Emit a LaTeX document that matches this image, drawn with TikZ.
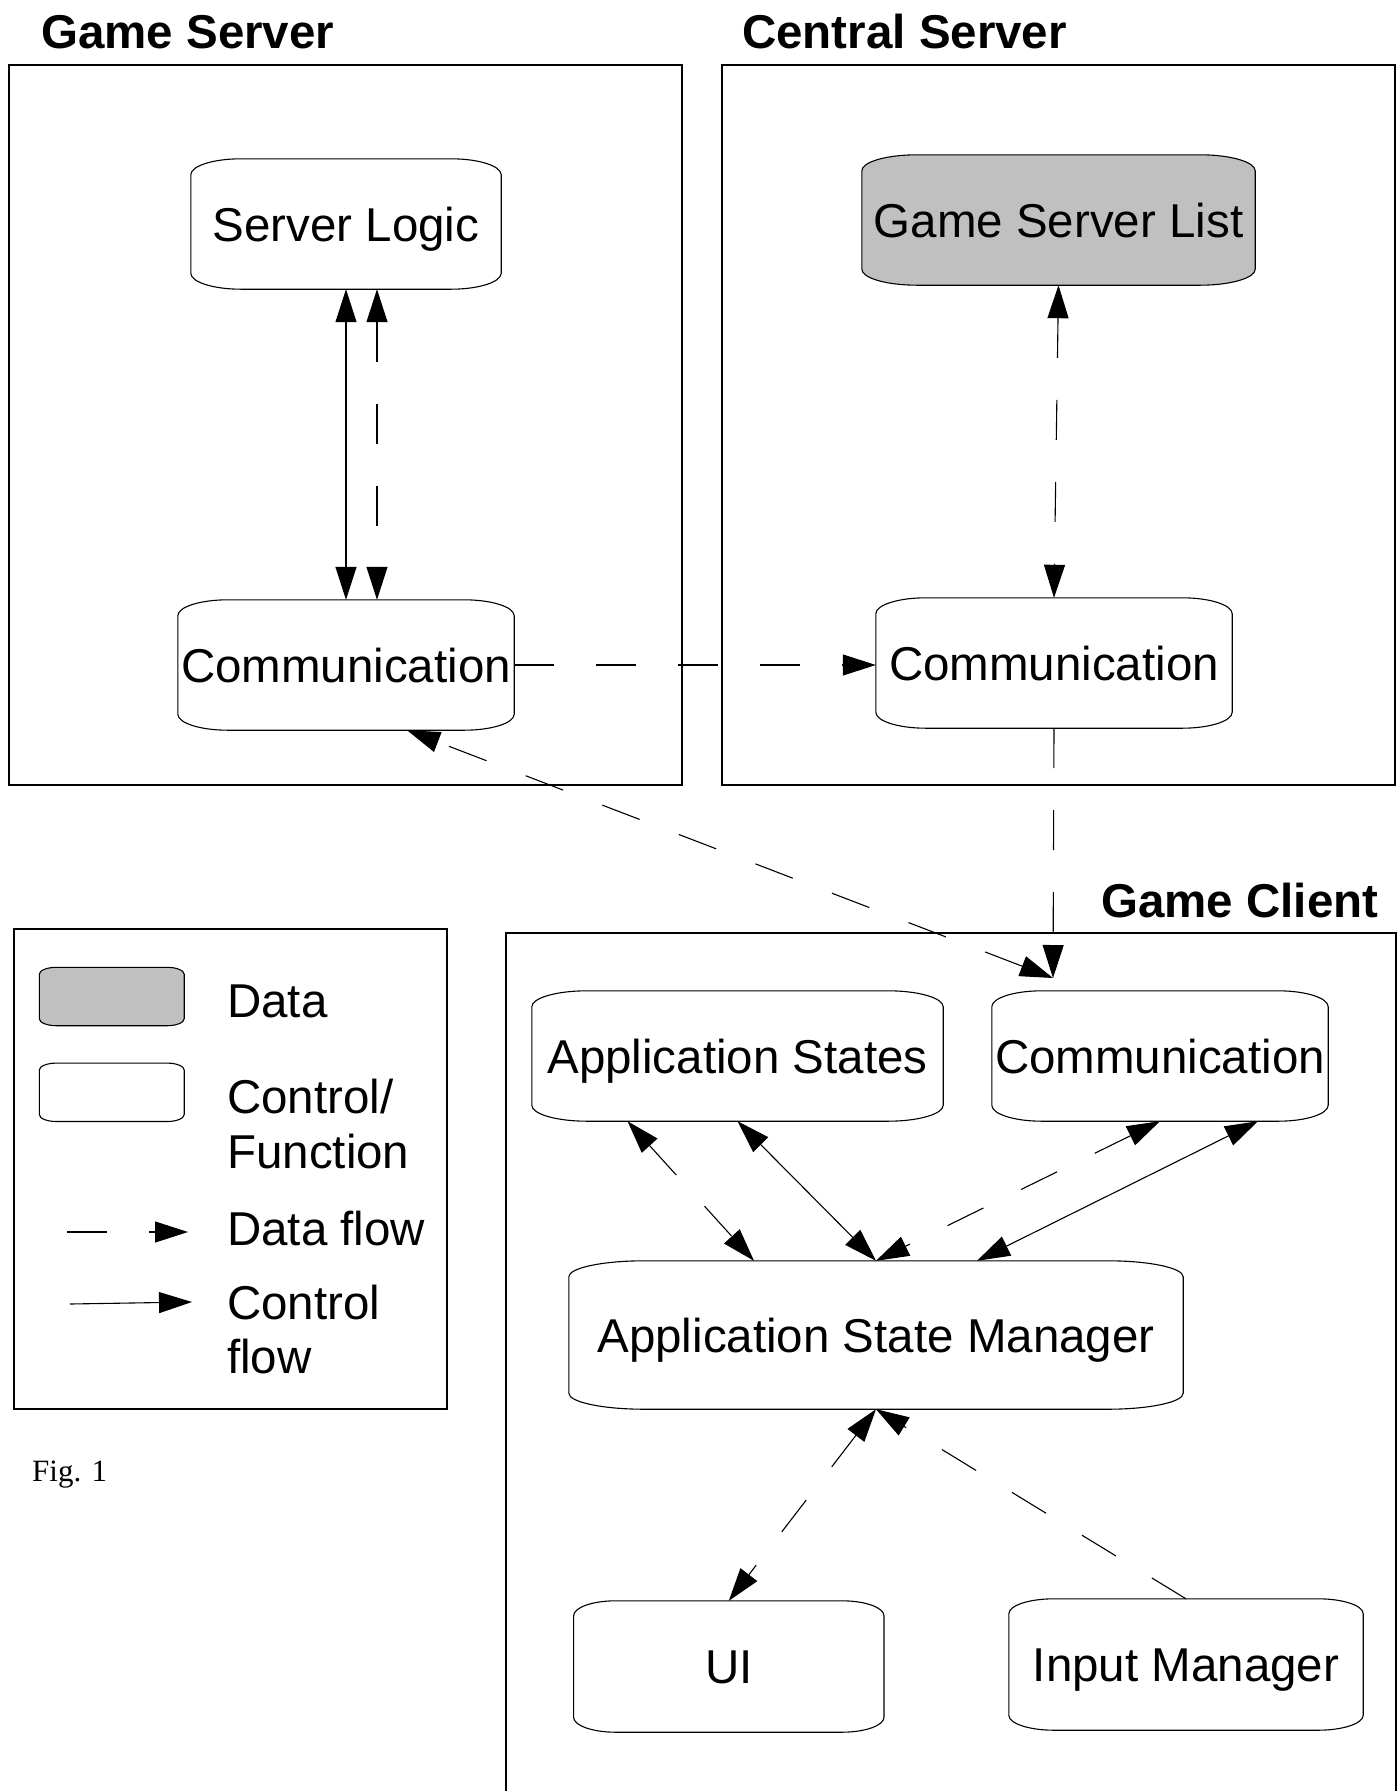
\documentclass[tikz,border=0pt]{standalone}
\usepackage{fontspec}
\setmainfont{Liberation Sans}
\newfontfamily\figfont{Liberation Serif}
\usetikzlibrary{arrows.meta,calc,backgrounds}
\definecolor{datagray}{RGB}{192,192,192}
\tikzset{
  boxtext/.style={inner sep=0pt, text height=34pt, text depth=0pt, font=\fontsize{47.5}{57}\selectfont},
  frame/.style={draw, line width=1.3pt},
  outline/.style={draw, line width=1.1pt},
  ctrl/.style={line width=1.1pt},
  data/.style={line width=1.1pt, dash pattern=on 40pt off 42pt},
  >={Triangle[length=33pt,width=21pt]},
  title/.style={inner sep=0pt, anchor=base west, font=\bfseries\fontsize{47.5}{57}\selectfont},
  legtext/.style={inner sep=0pt, anchor=base west, font=\fontsize{47.5}{57}\selectfont},
}
\newcommand\shapebox[4][]{%
  \path[outline,#1] let \p1=(#2.north west), \p2=(#2.south east) in
   (\x1,\y1-#4) .. controls (\x1,\y1-0.448*#4) and (\x1+0.448*#3,\y1) .. (\x1+#3,\y1)
   -- (\x2-#3,\y1) .. controls (\x2-0.448*#3,\y1) and (\x2,\y1-0.448*#4) .. (\x2,\y1-#4)
   -- (\x2,\y2+#4) .. controls (\x2,\y2+0.448*#4) and (\x2-0.448*#3,\y2) .. (\x2-#3,\y2)
   -- (\x1+#3,\y2) .. controls (\x1+0.448*#3,\y2) and (\x1,\y2+0.448*#4) .. (\x1,\y2+#4) -- cycle;}
\begin{document}
\begin{tikzpicture}[x=1pt,y=-1pt]
\useasboundingbox (0,0) rectangle (1399,1791);
\begin{scope}[on background layer]
  \fill[white] (0,0) rectangle (1399,1791);
\end{scope}

% frames
\draw[frame] (9,65) rectangle (682,785);
\draw[frame] (722,65) rectangle (1395,785);
\draw[frame] (506,1795) -- (506,933) -- (1396,933) -- (1396,1795);
\draw[frame] (14,929) rectangle (447,1409);

% titles
\node[title] (tgs) at (41,48) {Game Server};
\node[title] (tcs) at (742,48) {Central Server};
\node[title] (tgc) at (1101,917) {Game Client};

% nodes
\node[boxtext, minimum width=310pt, minimum height=130pt] (sl)  at (346,224)    {Server Logic};
\node[boxtext, minimum width=336pt, minimum height=130pt] (gsc) at (346,665)    {Communication};
\node[boxtext, minimum width=393pt, minimum height=130pt] (gsl) at (1058.5,220) {Game Server List};
\node[boxtext, minimum width=356pt, minimum height=130pt] (csc) at (1054,663)   {Communication};
\node[boxtext, minimum width=411pt, minimum height=130pt] (aps) at (737.5,1056) {Application States};
\node[boxtext, minimum width=336pt, minimum height=130pt] (gcc) at (1160,1056)  {Communication};
\node[boxtext, minimum width=614pt, minimum height=148pt] (asm) at (876,1335)   {Application State Manager};
\node[boxtext, minimum width=310pt, minimum height=131pt] (ui)  at (728.8,1666.5) {UI};
\node[boxtext, minimum width=354pt, minimum height=131pt] (im)  at (1186,1664.5) {Input Manager};

% legend
\node[inner sep=0pt, minimum width=144.5pt, minimum height=58pt] (legdata) at (111.75,996.5) {};
\node[inner sep=0pt, minimum width=144.5pt, minimum height=58pt] (legctrl) at (111.75,1092.3) {};
\node[legtext] (l1)  at (227,1017) {Data};
\node[legtext] (l2a) at (227,1113) {Control/};
\node[legtext] (l2b) at (227,1168) {Function};
\node[legtext] (l3)  at (227,1245) {Data flow};
\node[legtext] (l4a) at (227,1319) {Control};
\node[legtext] (l4b) at (227,1373) {flow};
\coordinate (ld1) at (67,1232);
\coordinate (ld2) at (188,1232);
\coordinate (lc1) at (70,1304);
\coordinate (lc2) at (192,1302);
\draw[data,->] (ld1) -- (ld2);
\draw[ctrl,->] (lc1) -- (lc2);

\node[inner sep=0pt, anchor=base west, font=\figfont\fontsize{31}{37}\selectfont] (fig) at (32,1481) {Fig. 1};

% shapes
\begin{scope}[on background layer]
  \shapebox{sl}{50pt}{16pt}
  \shapebox{gsc}{50pt}{16pt}
  \shapebox[fill=datagray]{gsl}{55pt}{16pt}
  \shapebox{csc}{50pt}{16pt}
  \shapebox{aps}{55pt}{16pt}
  \shapebox{gcc}{50pt}{16pt}
  \shapebox{asm}{75pt}{16pt}
  \shapebox{ui}{42pt}{15pt}
  \shapebox{im}{45pt}{15pt}
  \shapebox[fill=datagray]{legdata}{17pt}{7pt}
  \shapebox{legctrl}{17pt}{7pt}
\end{scope}

% connectors
\coordinate (gcin) at (1053,978);
\draw[ctrl,<->] (sl.south) -- (gsc.north);
\draw[data,<->] ([xshift=31pt]sl.south) -- ([xshift=31pt]gsc.north);
\draw[data,->] (gsc.east) -- (gsc.east -| csc.west);
\draw[data,<->] (gsl.south) -- (csc.north);
\draw[data,->] (csc.south) -- (gcin);
\draw[data,<->] (gcin) -- ([xshift=61pt]gsc.south);
\draw[data,<->] ([xshift=-110pt]aps.south) -- ([xshift=-122pt]asm.north);
\draw[ctrl,<->] (aps.south) -- (asm.north);
\draw[data,<->] (gcc.south) -- (asm.north);
\draw[ctrl,<->] ([xshift=98pt]gcc.south) -- ([xshift=101pt]asm.north);
\draw[data,<->] (asm.south) -- (ui.north);
\draw[data,->] (im.north) -- (asm.south);
\end{tikzpicture}
\end{document}
